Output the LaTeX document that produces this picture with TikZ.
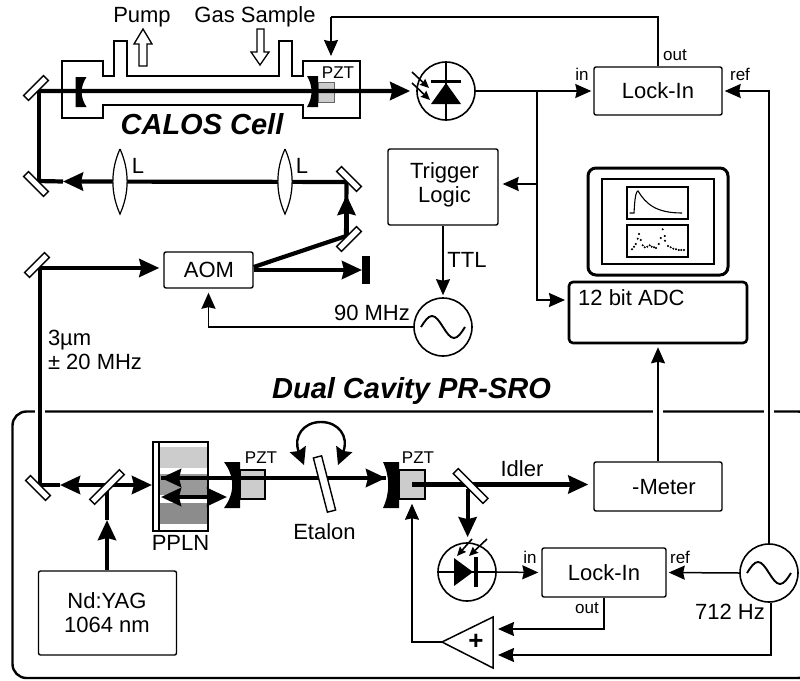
\documentclass[tikz,border=0pt]{standalone}
\usepackage{fontspec}
\setmainfont{Liberation Sans}
\usetikzlibrary{arrows.meta}

\pgfdeclarelayer{under}
\pgfdeclarelayer{beams}
\pgfsetlayers{under,beams,main}

\tikzset{
  txt/.style={inner sep=0pt,font=\fontsize{22}{24}\selectfont},
  smalltxt/.style={inner sep=0pt,font=\fontsize{17}{19}\selectfont},
  titletxt/.style={inner sep=0pt,font=\fontsize{29}{31}\selectfont\bfseries\itshape},
  box/.style={draw,rounded corners=2pt,line width=1.4pt,inner sep=0pt},
  mirror/.style={draw,fill=white,line width=1.4pt,inner sep=0pt,minimum width=28pt,minimum height=7pt},
  pzt/.style={draw,fill=black!20,line width=1.5pt,inner sep=0pt},
  round/.style={draw,circle,line width=1.6pt,inner sep=0pt,minimum size=58pt},
  beam/.style={line width=4.2pt},
  beamto/.style={beam,-{Stealth[length=20pt,width=18pt,inset=2pt]}},
  beamboth/.style={beam,{Stealth[length=20pt,width=18pt,inset=2pt]}-{Stealth[length=20pt,width=18pt,inset=2pt]}},
  sig/.style={line width=1.5pt,-{Stealth[length=16pt,width=14pt,inset=1.5pt]},shorten >=2pt},
  light/.style={line width=1.6pt,-{Stealth[length=9pt,width=8pt,inset=1pt]}},
  hollow/.style={draw,fill=white,line width=1.3pt}
}

\begin{document}
\begin{tikzpicture}[x = {(1pt,0pt)},
                    y = {(0pt,-1pt)}]
\useasboundingbox (0,0) rectangle (800,680);

% bottom cavity frame
\begin{pgfonlayer}{under}
\begin{scope}
  \clip (0,0) rectangle (800,680);
  \draw[line width=2.4pt,rounded corners=14pt] (12.5,411.5) rectangle (812,678);
\end{scope}
\draw[white,line width=4pt] (35,411.5) -- (45,411.5);
\draw[white,line width=4pt] (653,411.5) -- (663,411.5);
\draw[white,line width=4pt] (764,411.5) -- (774,411.5);

\node[pzt,draw=black!60,line width=0.8pt,minimum width=16pt,minimum height=20pt] (pztA) at (326,92) {};
\node[pzt,minimum width=25pt,minimum height=29pt] (pztC) at (252.5,484.5) {};
\node[pzt,minimum width=26pt,minimum height=29pt] (pztB) at (412,484.5) {};

\fill[black!20] (159,447) rectangle (208,468);
\fill[black!40] (159,474) rectangle (208,495);
\fill[black!45] (159,503) rectangle (208,524);
\draw[line width=1.5pt] (153,442) rectangle (208,531);
\draw[line width=1.5pt] (159,442) -- (159,531);
\end{pgfonlayer}

% CALOS cell
\draw[line width=2.5pt] (62,61) -- (103,61) -- (103,76) -- (114,76) -- (114,41) -- (127,41)
  -- (127,76) -- (279,76) -- (279,41) -- (292,41) -- (292,76) -- (303,76) -- (303,61)
  -- (360,61) -- (360,118) -- (303,118) -- (303,105) -- (103,105) -- (103,118) -- (62,118) -- cycle;
\fill (75.5,77) -- (86.5,77) .. controls (80,87) and (80,97) .. (86.5,107) -- (75.5,107) -- cycle;
\fill (318,76) -- (307,76) .. controls (313,86) and (313,97) .. (307,107) -- (318,107) -- cycle;
\node[smalltxt] (pztAtxt) at (338,73) {PZT};
\node[titletxt] (cellname) at (202,124) {CALOS Cell};

\node[txt] (pump) at (142,17) {Pump};
\node[txt] (gas) at (255,17) {Gas Sample};
\draw[hollow] (139,66) -- (147,66) -- (147,44) -- (152,44) -- (143,29) -- (134,44) -- (139,44) -- cycle;
\draw[hollow] (257,29) -- (264,29) -- (264,52) -- (269,52) -- (260,65) -- (251,52) -- (257,52) -- cycle;

% mirrors
\node[mirror,rotate=45] (mA) at (36,88) {};
\node[mirror,rotate=-45] (mB) at (36,184) {};
\node[mirror,rotate=-45] (mC) at (349,179) {};
\node[mirror,rotate=45] (mD) at (349,239) {};
\node[mirror,rotate=45] (mE) at (37,265) {};
\node[mirror,rotate=-45] (mF) at (38,488) {};
\node[mirror,minimum width=42pt,rotate=-45] (mG) at (470.6,486) {};
\node[mirror,minimum width=42pt,rotate=45] (split) at (107,487) {};

% lenses
\draw[fill=white,line width=1.2pt] (120,149) .. controls (110.5,170) and (110.5,193) .. (120,214)
  .. controls (129.5,193) and (129.5,170) .. (120,149);
\draw[fill=white,line width=1.2pt] (285,149) .. controls (275.5,170) and (275.5,193) .. (285,214)
  .. controls (294.5,193) and (294.5,170) .. (285,149);
\node[txt] (lA) at (138,166) {L};
\node[txt] (lB) at (302,166) {L};

\node[box,minimum width=89pt,minimum height=36pt] (aom) at (208.5,270) {};
\node[txt] (aomtxt) at (209,270) {AOM};
\fill (362,256) rectangle (370,284);
\node[txt,align=left] (idlerinfo) at (95,350) {3µm\\± 20 MHz};
\node[titletxt] (cavname) at (411.5,391) {Dual Cavity PR-SRO};

% photodiode at the cell
\node[round] (dA) at (446,91) {};
\draw[line width=2.5pt] (dA.north) -- (dA.south);
\fill (446,83) -- (461,104) -- (431,104) -- cycle;
\draw[line width=3pt] (431,81.7) -- (461,81.7);
\draw[light] (412,72) -- (429,88);
\draw[light] (412,83) -- (430,100);

% lock-in of the cell
\node[box,minimum width=128pt,minimum height=48pt] (lockA) at (658,91) {};
\node[txt] (lockAtxt) at (658,91) {Lock-In};
\node[smalltxt] (lockAin) at (582,74) {in};
\node[smalltxt] (lockAref) at (740,74) {ref};
\node[smalltxt] (lockAout) at (675,55) {out};
\coordinate (oTop) at (331,17);
\coordinate (cellIn) at (331,56);
\draw[line width=1.5pt] (lockA.north) |- (oTop);
\draw[sig,shorten >=0pt] (oTop) -- (cellIn);
\draw[sig] (dA.east) -- (lockA.west);

% trigger and ADC
\coordinate (jA) at (537,91);
\coordinate (jB) at (537,184);
\coordinate (adcIn) at (565,300);
\node[box,minimum width=110pt,minimum height=76pt] (trig) at (443,187) {};
\node[txt,align=center] (trigtxt) at (444.5,185) {Trigger\\Logic};
\draw[sig,shorten >=0pt] (jA) |- (adcIn);
\draw[sig,shorten >=4pt] (jB) -- (jB -| trig.east);

\node[round] (oscA) at (443,327) {};
\draw[line width=1.9pt] (oscA.center) ++(-22,0) sin ++(11,-11) cos ++(11,11) sin ++(11,11) cos ++(11,-11);
\draw[sig] (trig.south) -- (oscA.north);
\node[txt] (ttl) at (467,260) {TTL};
\draw[sig,shorten >=4pt] (oscA.west) -| (aom.south);
\node[txt] (oscAtxt) at (372,313) {90 MHz};

% computer
\node[draw,line width=3pt,rounded corners=8pt,inner sep=0pt,minimum width=140pt,minimum height=107pt] (monitor) at (658,221.5) {};
\node[draw,line width=1.3pt,inner sep=0pt,minimum width=112pt,minimum height=85pt] (screen) at (658,221.5) {};
\node[draw,line width=1.3pt,inner sep=0pt,minimum width=61pt,minimum height=32pt] (plotA) at (657.5,203) {};
\node[draw,line width=1.3pt,inner sep=0pt,minimum width=61pt,minimum height=32pt] (plotB) at (657.5,241) {};
\draw[line width=1.1pt] (629.5,213) -- (634,213) -- (634.5,205) .. controls (635,198) and (636,191) .. (638,191)
  .. controls (646,204) and (656,213) .. (682,213);
\draw[black] plot[only marks,mark=*,mark size=0.8pt] coordinates {
  (632,249.3) (634,246.7) (635.7,244) (637.7,238.7) (639,234) (640.7,240) (642.7,245.3) (644.7,247.3)
  (647.3,246.7) (649.7,245.3) (651.7,246.7) (654,247.3) (656,248) (658.7,244) (660.7,238) (662.7,229.3)
  (664.7,236) (665,240.7) (668,246) (670.7,247.3) (673.3,248.7) (676,249.3) (678.7,250) (681.3,250) (684,250)};

\node[draw,line width=2.6pt,rounded corners=4pt,inner sep=0pt,minimum width=178pt,minimum height=61pt] (adc) at (658,312.5) {};
\node[txt,anchor=west] (adctxt) at (578,298) {12 bit ADC};

% cavity
\node[txt] (ppln) at (180.5,543) {PPLN};
\fill (240,462) -- (224,462) .. controls (235,477) and (235,493) .. (224,508) -- (240,508) -- cycle;
\fill (399,462) -- (383,462) .. controls (390,477) and (390,493) .. (383,508) -- (399,508) -- cycle;
\node[smalltxt] (pztCtxt) at (261,458) {PZT};
\node[smalltxt] (pztBtxt) at (418,458) {PZT};
\node[box,minimum width=138pt,minimum height=84pt] (yag) at (107.5,613) {};
\node[txt,align=center] (yagtxt) at (107,612.5) {Nd:YAG\\1064 nm};
\node[draw,fill=white,line width=1.4pt,inner sep=0pt,minimum width=8.5pt,minimum height=56pt,rotate=14.5] (etalon) at (324.5,484) {};
\node[txt] (etalontxt) at (324.5,532) {Etalon};
\draw[line width=2.4pt,{Stealth[length=17pt,width=17pt,inset=2pt]}-{Stealth[length=17pt,width=17pt,inset=2pt]}] (304,465)
  .. controls (293,437) and (303,422) .. (321,422) .. controls (339,422) and (349,437) .. (338,465);

% idler and second detector
\node[box,minimum width=128pt,minimum height=49pt] (meter) at (658,486.5) {};
\node[txt] (metertxt) at (664,487) {-Meter};
\node[txt] (idler) at (522,469) {Idler};
\node[round] (dB) at (467,572) {};
\draw[line width=2.5pt] (dB.west) -- (dB.east);
\fill (473,572) -- (454,558) -- (454,586) -- cycle;
\draw[line width=3.5pt] (476,557) -- (476,587);
\draw[light] (472,539) -- (457,556);
\draw[light] (487,539) -- (469,556);

\node[box,minimum width=124pt,minimum height=49pt] (lockB) at (604,572.5) {};
\node[txt] (lockBtxt) at (604,573) {Lock-In};
\node[smalltxt] (lockBin) at (530,557) {in};
\node[smalltxt] (lockBref) at (680,557) {ref};
\node[smalltxt] (lockBout) at (587,608) {out};
\draw[sig,shorten >=3pt] (dB.east) -- (lockB.west);

\node[round] (oscB) at (769,573) {};
\draw[line width=1.9pt] (oscB.center) ++(-22,0) sin ++(11,-11) cos ++(11,11) sin ++(11,11) cos ++(11,-11);
\node[txt] (oscBtxt) at (730,612) {712 Hz};
\draw[sig] (oscB.west) -- (lockB.east);
\draw[sig] (oscB.north) |- (lockA.east);
\draw[sig,shorten >=3pt] (meter.north) -- (adc.south);

% servo amplifier
\draw[line width=1.5pt] (442,642) -- (493,617) -- (493,668) -- cycle;
\coordinate (ampOut) at (442,642);
\coordinate (ampInA) at (498,629);
\coordinate (ampInB) at (498,655);
\node[inner sep=0pt,font=\fontsize{26}{28}\selectfont\bfseries] (amp) at (476,642) {+};
\draw[sig,shorten >=0pt] (lockB.south) |- (ampInA);
\draw[sig,shorten >=0pt] ([xshift=2pt]oscB.south) |- (ampInB);
\draw[sig,shorten >=4pt] (ampOut) -| (pztB.south);

% laser beams
\coordinate (tipA) at (63,181.5);
\coordinate (tipB) at (346.5,195);
\coordinate (dumpIn) at (362,270);
\coordinate (tipC) at (60,485);
\coordinate (tipD) at (152,485);
\coordinate (tipE) at (161,478);
\coordinate (tipF) at (386,478);
\coordinate (tipG) at (161,497);
\coordinate (tipH) at (227,497);
\coordinate (tipI) at (107,520);
\begin{pgfonlayer}{beams}
\draw[beamto,shorten >=6pt] (mA.south) -- (dA.west);
\draw[beam] (mA.south) -- (mA.south |- mB.north);
\draw[beam] (tipA) -- (mA.south |- mB.north);
\draw[beamto] (mC.south) -- (tipA);
\draw[beam] (mD.north) -- (tipB |- mC.south);
\draw[beamto] (mD.north -| tipB) -- (tipB);
\draw[beam] (aom.east) ++(0,-3) -- (mD.north);
\draw[beamto] (aom.east) -- (dumpIn);
\draw[beam] (mE.south) -- (mE.south |- mF.north);
\draw[beamto,shorten >=4pt] (mE.south) -- (mE.south -| aom.west);
\draw[beam] (tipC) -- (tipC -| mF.north);
\draw[beamto] (split.center |- tipC) -- (tipC);
\draw[beamto] (split.center |- tipC) -- (tipD);
\draw[beamto] (yag.north -| tipI) -- (tipI);
\draw[beam] (tipI) -- (split.center);
\draw[beamto] (tipF) -- (tipE);
\draw[beamto] (tipE) -- (tipF);
\draw[beamboth] (tipG) -- (tipH);
\draw[beamto,shorten >=5pt] (pztB.center) -- (pztB.center -| meter.west);
\draw[beamto,shorten >=5pt] (mG.south) -- (mG.south |- dB.north);
\end{pgfonlayer}
\end{tikzpicture}
\end{document}
